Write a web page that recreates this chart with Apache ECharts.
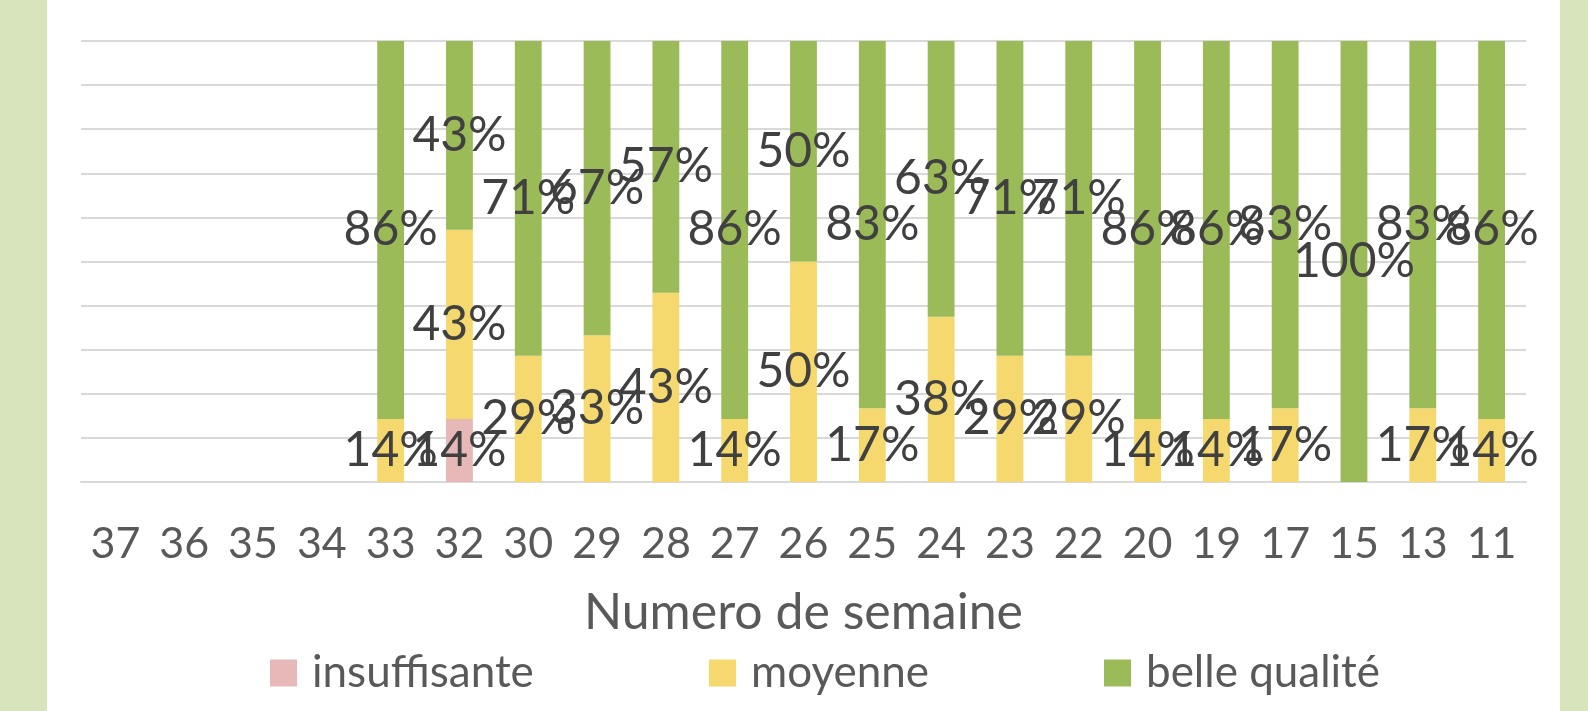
<!DOCTYPE html>
<html>
<head>
<meta charset="utf-8">
<script src="https://cdn.jsdelivr.net/npm/echarts@6/dist/echarts.min.js"></script>
<style>
  html, body { margin: 0; padding: 0; background: #fff; }
  #chart { width: 1588px; height: 711px; }
</style>
</head>
<body>
<div id="chart"></div>
<script>
// semaines (ordre décroissant comme dans le graphique)
const weeks = ["37", "36", "35", "34", "33", "32", "30", "29", "28", "27", "26", "25", "24", "23", "22", "20", "19", "17", "15", "13", "11"];
// parts en pourcentage
const insuffisante = [null, null, null, null, 0, 14.3, 0, 0, 0, 0, 0, 0, 0, 0, 0, 0, 0, 0, 0, 0, 0];
const moyenne = [null, null, null, null, 14.3, 42.9, 28.6, 33.3, 42.9, 14.3, 50, 16.7, 37.5, 28.6, 28.6, 14.3, 14.3, 16.7, 0, 16.7, 14.3];
const belleQualite = [null, null, null, null, 85.7, 42.9, 71.4, 66.7, 57.1, 85.7, 50, 83.3, 62.5, 71.4, 71.4, 85.7, 85.7, 83.3, 100, 83.3, 85.7];

const font = "Lato, 'Open Sans', sans-serif";

const labelOpt = {
  show: true,
  position: "inside",
  fontFamily: font,
  fontSize: 48,
  color: "#404040",
  formatter: (p) => (p.value ? Math.round(p.value) + "%" : ""),
};

const chart = echarts.init(document.getElementById("chart"));
chart.setOption({
  animation: false,
  textStyle: { fontFamily: font },
  graphic: [
    // bandes vertes sur les côtés
    { type: "rect", left: 0, top: 0, z: -10, shape: { width: 47, height: 711 }, style: { fill: "#d8e4bc" } },
    { type: "rect", left: 1560, top: 0, z: -10, shape: { width: 28, height: 711 }, style: { fill: "#d8e4bc" } },
  ],
  grid: {
    left: 81,
    right: 62,
    top: 41,
    bottom: 229,
  },
  legend: [
    { data: ["insuffisante"], left: 265 },
    { data: ["moyenne"], left: 704 },
    { data: ["belle qualité"], left: 1099 },
  ].map((l) => ({
    ...l,
    top: 646,
    icon: "rect",
    itemWidth: 27,
    itemHeight: 27,
    textStyle: { fontFamily: font, fontSize: 44, color: "#595959", padding: [0, 0, 0, 10] },
  })),
  xAxis: {
    type: "category",
    data: weeks,
    axisTick: { show: false },
    axisLine: { lineStyle: { color: "#d9d9d9", width: 2 } },
    axisLabel: { fontFamily: font, fontSize: 43, color: "#595959", margin: 41 },
    name: "Numero de semaine",
    nameLocation: "middle",
    nameGap: 106,
    nameTextStyle: { fontFamily: font, fontSize: 50, color: "#595959" },
  },
  yAxis: {
    type: "value",
    min: 0,
    max: 100,
    interval: 10,
    axisLabel: { show: false },
    axisLine: { show: false },
    axisTick: { show: false },
    splitLine: { lineStyle: { color: "#d9d9d9", width: 2 } },
  },
  series: [
    { name: "insuffisante", data: insuffisante, color: "#e6b8b7" },
    { name: "moyenne", data: moyenne, color: "#f5d96f" },
    { name: "belle qualité", data: belleQualite, color: "#9bbb59" },
  ].map((s) => ({
    ...s,
    type: "bar",
    stack: "total",
    barWidth: "39%",
    label: labelOpt,
  })),
});
</script>
</body>
</html>
